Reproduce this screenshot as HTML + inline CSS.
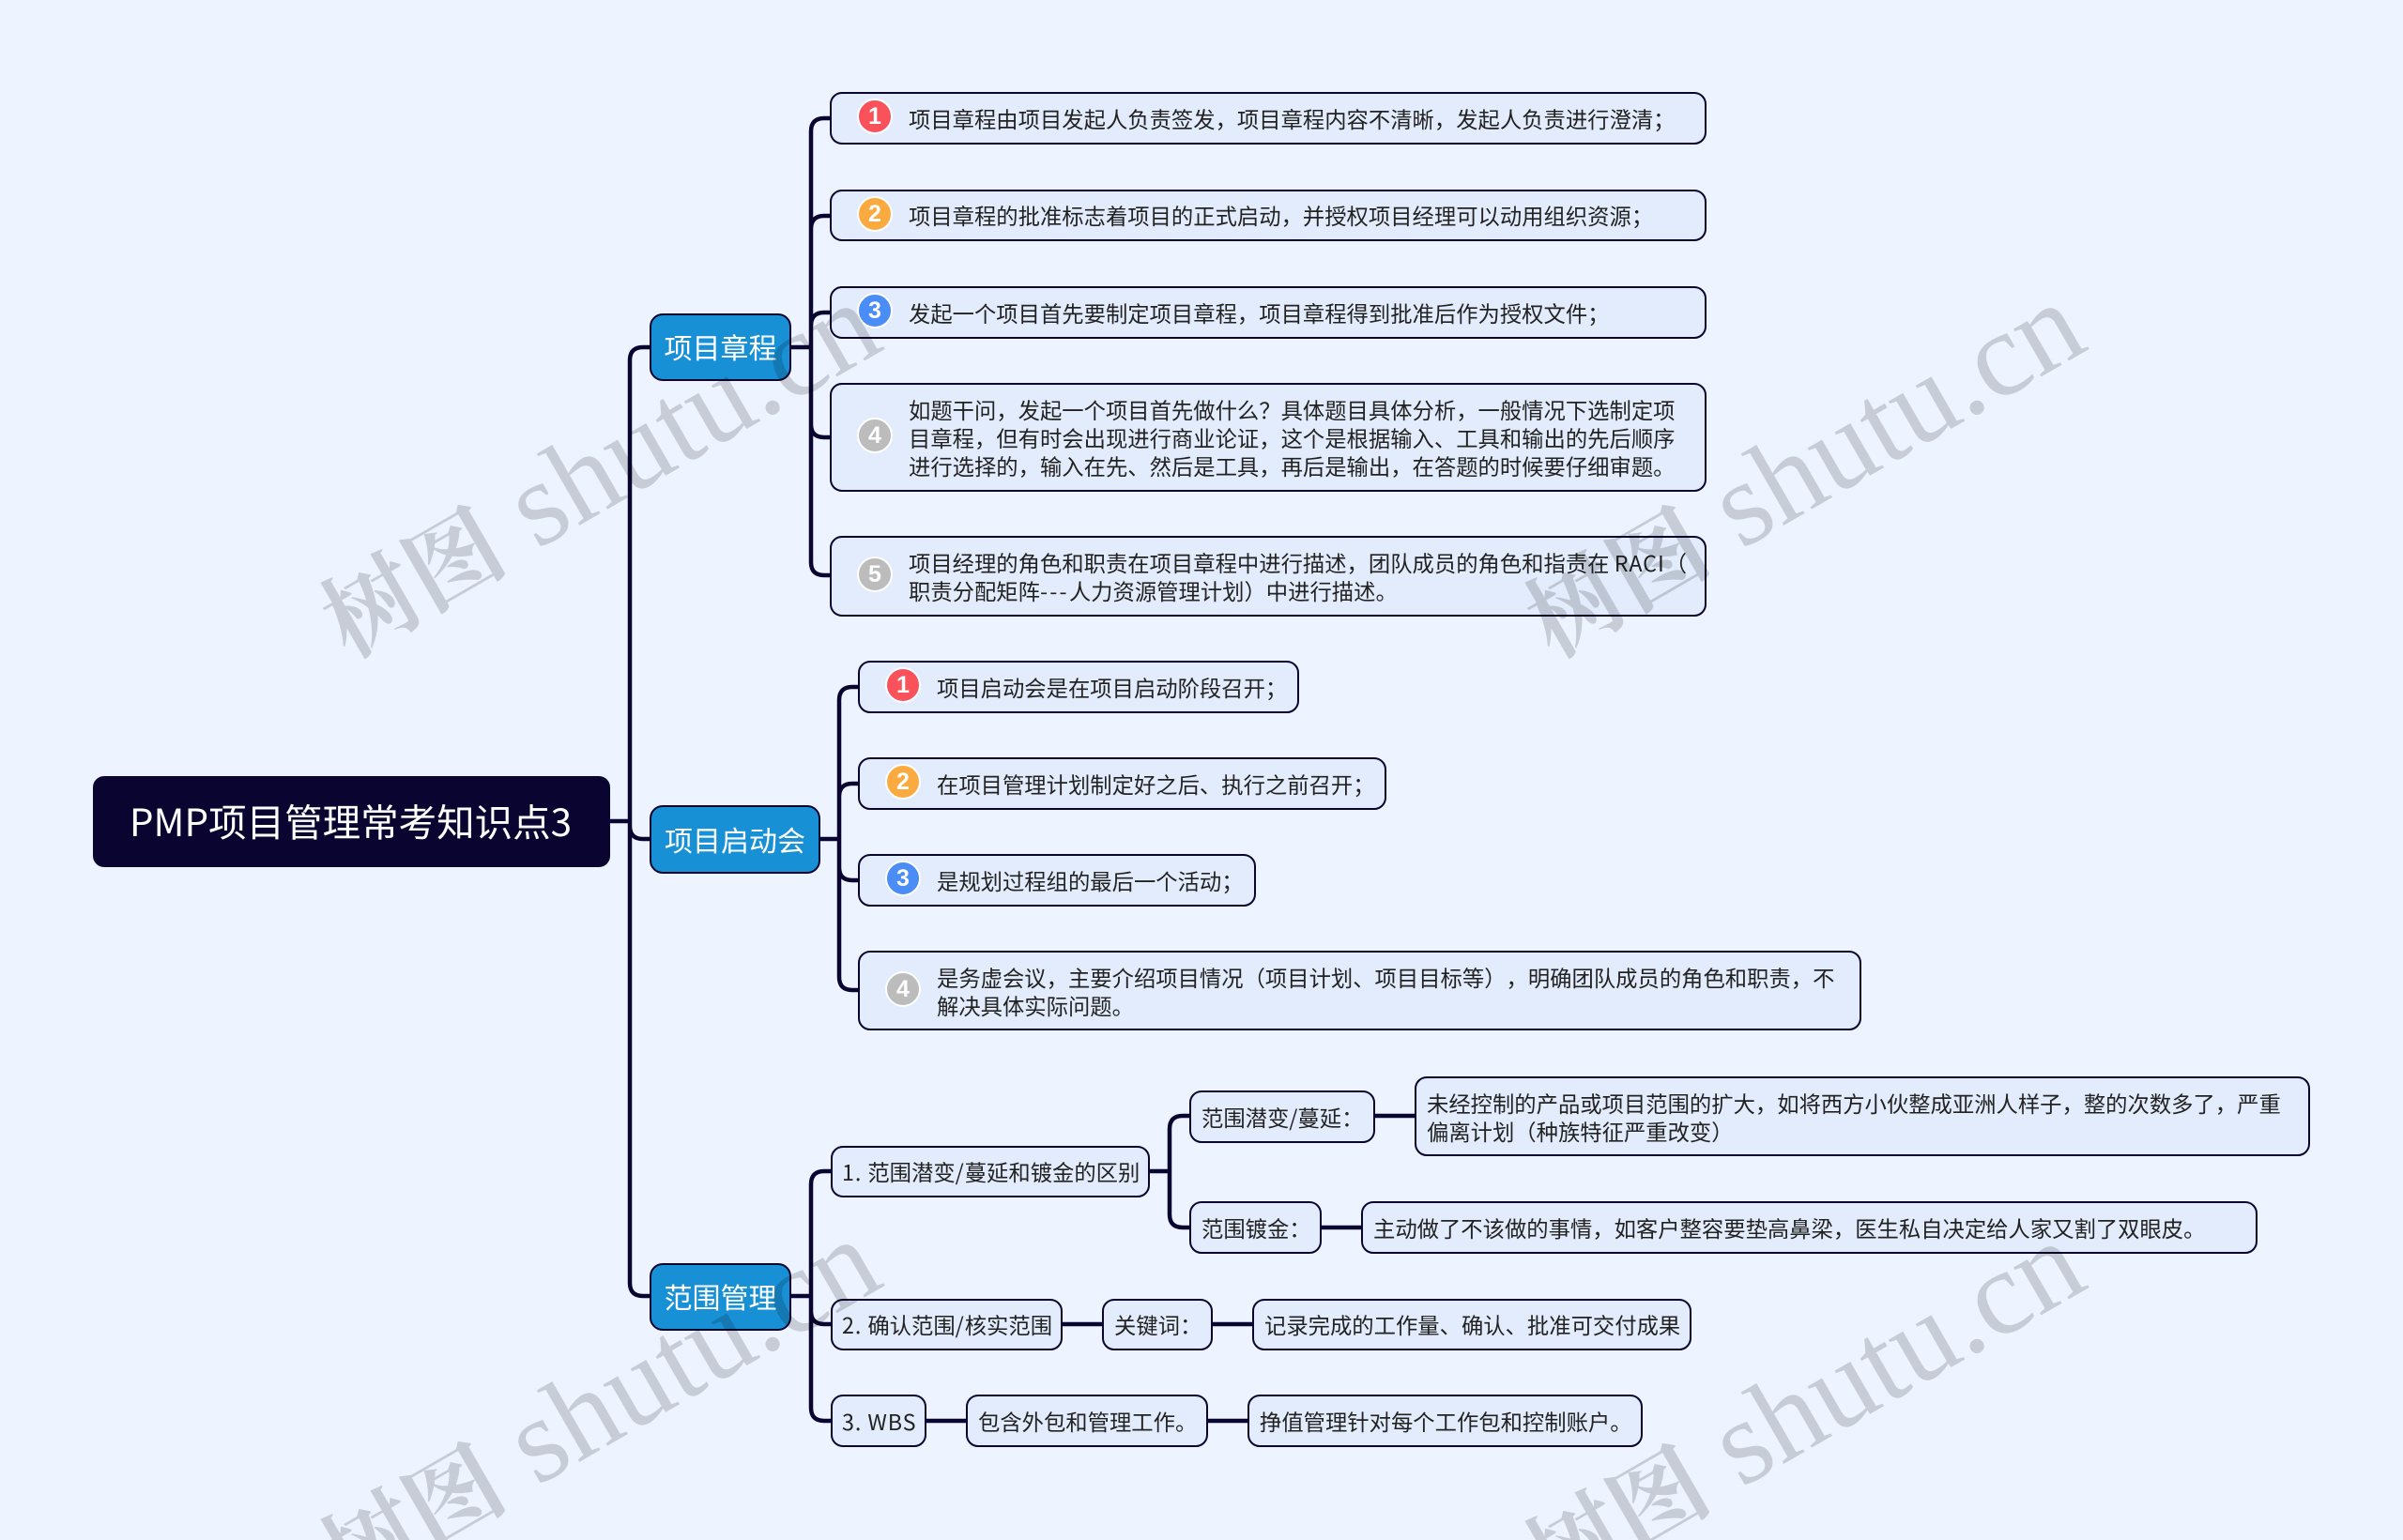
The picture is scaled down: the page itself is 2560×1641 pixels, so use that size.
<!DOCTYPE html>
<html lang="zh"><head><meta charset="utf-8"><title>PMP项目管理常考知识点3</title>
<style>
html,body{margin:0;padding:0;width:2560px;height:1641px;overflow:hidden;background:#edf4ff}
body{position:relative;font-family:"Liberation Sans","Noto Sans CJK SC",sans-serif}
svg{position:absolute;left:0;top:0}
.n{position:absolute;box-sizing:border-box;display:flex;align-items:center;white-space:nowrap;font-family:"Noto Sans CJK SC","Liberation Sans",sans-serif;font-size:23.33px;line-height:30px;color:#222;background:#e3ecfc;border:2.5px solid #0a0530;border-radius:13px;padding-left:11px;padding-bottom:1px;text-spacing-trim:space-all;text-autospace:no-autospace}
.b{background:#1890d5;color:#fff;font-size:30px;justify-content:center;padding:0 0 2px;border-radius:14px;line-height:40px}
.r{background:#0a0530;color:#fff;font-size:40.5px;justify-content:center;padding:0 2px 3px 0;border-radius:12px;line-height:50px}
.i{padding-left:82px}
.t{padding-bottom:0;padding-top:0}
.d{padding-left:10px}
.c{position:absolute;left:27px;width:34px;height:34px;border-radius:50%;border:2px solid #fff;color:#fff;font:bold 25px/34px "Liberation Sans",sans-serif;text-align:center}
.l{letter-spacing:.9px}
.h{letter-spacing:2.2px}
</style></head><body>
<svg width="2560" height="1641" fill="none" stroke="#0a0530" stroke-width="4.5">
<path d="M650 875H671M692 370H685Q671 370 671 384V1367Q671 1381 685 1381H693M671 880Q671 894 685 894H692"/>
<path d="M842 370H864M886 126H878Q864 126 864 140V599Q864 613 878 613H886M864 244Q864 230 878 230H886M864 347Q864 333 878 333H886M864 452Q864 466 878 466H886"/>
<path d="M872 894H894M915 732H908Q894 732 894 746V1041Q894 1055 908 1055H915M894 849Q894 835 908 835H915M894 924Q894 938 908 938H915"/>
<path d="M842 1381H864M886 1248H878Q864 1248 864 1262V1500Q864 1514 878 1514H886M864 1397Q864 1411 878 1411H886"/>
<path d="M1224 1248H1246M1268 1189H1260Q1246 1189 1246 1203V1294Q1246 1308 1260 1308H1268"/>
<path d="M1464 1189H1508M1407 1308H1451M1131 1411H1175M1291 1411H1335M986 1514H1030M1286 1514H1330"/>
</svg>

<div class="n r" style="left:99px;top:827px;width:551px;height:97px">PMP项目管理常考知识点3</div>
<div class="n b" style="left:692px;top:334px;width:151px;height:72px">项目章程</div>
<div class="n b" style="left:692px;top:858px;width:182px;height:73px">项目启动会</div>
<div class="n b" style="left:692px;top:1346px;width:151px;height:72px">范围管理</div>

<div class="n i" style="left:884px;top:98px;width:934px;height:56px"><span class="c" style="top:5px;background:#f9525a">1</span>项目章程由项目发起人负责签发，项目章程内容不清晰，发起人负责进行澄清；</div>
<div class="n i" style="left:884px;top:202px;width:934px;height:55px"><span class="c" style="top:5px;background:#fbaa3f">2</span>项目章程的批准标志着项目的正式启动，并授权项目经理可以动用组织资源；</div>
<div class="n i" style="left:884px;top:305px;width:934px;height:56px"><span class="c" style="top:5px;background:#4a8df6">3</span>发起一个项目首先要制定项目章程，项目章程得到批准后作为授权文件；</div>
<div class="n i" style="left:884px;top:408px;width:934px;height:116px"><span class="c" style="top:35px;background:#bcbcbc">4</span><span>如题干问，发起一个项目首先做什么？具体题目具体分析，一般情况下选制定项<br>目章程，但有时会出现进行商业论证，这个是根据输入、工具和输出的先后顺序<br>进行选择的，输入在先、然后是工具，再后是输出，在答题的时候要仔细审题。</span></div>
<div class="n i" style="left:884px;top:571px;width:934px;height:86px"><span class="c" style="top:20px;background:#bcbcbc">5</span><span>项目经理的角色和职责在项目章程中进行描述，团队成员的角色和指责在 <span class="l">RACI</span>（<br>职责分配矩阵<span class="h">---</span>人力资源管理计划）中进行描述。</span></div>

<div class="n i" style="left:914px;top:704px;width:470px;height:56px"><span class="c" style="top:5px;background:#f9525a">1</span>项目启动会是在项目启动阶段召开；</div>
<div class="n i" style="left:914px;top:807px;width:563px;height:56px"><span class="c" style="top:5px;background:#fbaa3f">2</span>在项目管理计划制定好之后、执行之前召开；</div>
<div class="n i" style="left:914px;top:910px;width:424px;height:56px"><span class="c" style="top:5px;background:#4a8df6">3</span>是规划过程组的最后一个活动；</div>
<div class="n i t" style="left:914px;top:1013px;width:1069px;height:85px"><span class="c" style="top:20px;background:#bcbcbc">4</span><span>是务虚会议，主要介绍项目情况（项目计划、项目目标等），明确团队成员的角色和职责，不<br>解决具体实际问题。</span></div>

<div class="n d" style="left:885px;top:1221px;width:340px;height:55px"><span><span class="l">1. </span>范围潜变<span class="l">/</span>蔓延和镀金的区别</span></div>
<div class="n" style="left:1267px;top:1162px;width:198px;height:56px">范围潜变/蔓延：</div>
<div class="n t" style="left:1507px;top:1147px;width:954px;height:85px"><span>未经控制的产品或项目范围的扩大，如将西方小伙整成亚洲人样子，整的次数多了，严重<br>偏离计划（种族特征严重改变）</span></div>
<div class="n" style="left:1267px;top:1280px;width:141px;height:56px">范围镀金：</div>
<div class="n" style="left:1450px;top:1280px;width:955px;height:56px">主动做了不该做的事情，如客户整容要垫高鼻梁，医生私自决定给人家又割了双眼皮。</div>
<div class="n d" style="left:885px;top:1384px;width:247px;height:55px"><span><span class="l">2. </span>确认范围<span class="l">/</span>核实范围</span></div>
<div class="n" style="left:1174px;top:1384px;width:118px;height:55px">关键词：</div>
<div class="n" style="left:1334px;top:1384px;width:468px;height:55px">记录完成的工作量、确认、批准可交付成果</div>
<div class="n d" style="left:885px;top:1486px;width:102px;height:56px"><span class="l">3. WBS</span></div>
<div class="n" style="left:1029px;top:1486px;width:258px;height:56px">包含外包和管理工作。</div>
<div class="n" style="left:1329px;top:1486px;width:421px;height:56px">挣值管理针对每个工作包和控制账户。</div>

<svg width="2560" height="1641" style="pointer-events:none">
<defs><clipPath id="f"><rect width="2560" height="1641"/></clipPath></defs>
<g clip-path="url(#f)" fill="#000" fill-opacity=".16" font-size="128" font-family="'Liberation Serif','Noto Serif CJK SC',serif">
<text transform="translate(371 702) rotate(-30)"><tspan font-size="100" font-weight="700">树图</tspan> <tspan>shutu.cn</tspan></text>
<text transform="translate(1654 702) rotate(-30)"><tspan font-size="100" font-weight="700">树图</tspan> <tspan>shutu.cn</tspan></text>
<text transform="translate(371 1700) rotate(-30)"><tspan font-size="100" font-weight="700">树图</tspan> <tspan>shutu.cn</tspan></text>
<text transform="translate(1654 1702) rotate(-30)"><tspan font-size="100" font-weight="700">树图</tspan> <tspan>shutu.cn</tspan></text>
</g></svg>
</body></html>
